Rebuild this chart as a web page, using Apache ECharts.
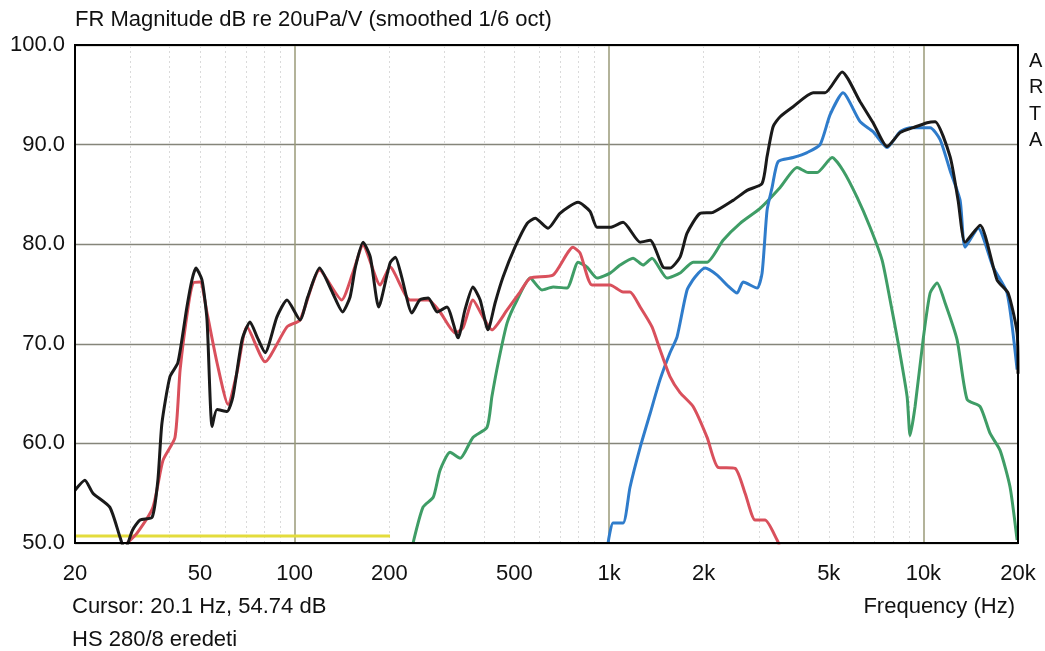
<!DOCTYPE html>
<html><head><meta charset="utf-8">
<script src="https://cdn.jsdelivr.net/npm/echarts@6/dist/echarts.min.js"></script>
<style>html,body{margin:0;padding:0;background:#fff}#c{width:1045px;height:651px}</style>
</head><body><div id="c"></div>
<script>
// ---- data (frequency in Hz, level in dB) ----
const blackF  = [20,21.5,22.8,25.8,27.8,28.8,30.5,32.2,35.2,36.7,37.8,40.1,42.5,45.4,47.1,48.5,50.7,52.6,54.6,56.6,60.9,63.6,68.0,72.1,75.9,80.5,87.8,94.5,104,110,120,132,142,150,156,165,174,185,201,209,219,236,250,266,284,305,331,348,369,389,412,434,460,502,549,582,640,698,797,870,916,1008,1108,1256,1351,1485,1563,1682,1771,1948,2142,2481,2749,3068,3182,3326,3502,3851,4458,4868,5512,6292,6918,7666,8432,9274,10276,10898,12162,12898,13576,15152,17162,18602,19868,20000];
const blackDB = [55.3,56.3,55.0,53.6,50.6,49.3,51.3,52.3,52.6,56.3,62.0,66.7,68.1,73.7,76.4,77.6,76.4,72.4,61.7,63.4,63.2,64.7,70.4,72.2,70.7,69.1,72.7,74.4,72.4,74.7,77.6,75.1,73.2,74.7,77.7,80.2,78.7,73.7,78.1,78.7,76.7,73.1,74.4,74.6,73.2,73.7,70.6,73.4,75.7,74.4,71.4,74.1,76.7,79.7,82.1,82.6,81.6,83.1,84.2,83.3,81.7,81.7,82.2,80.2,80.4,77.7,77.6,78.7,81.1,83.1,83.2,84.4,85.4,86.1,88.8,91.8,92.8,93.8,95.2,95.2,97.3,94.3,92.2,89.8,91.2,91.7,92.2,92.3,88.8,84.4,80.2,81.9,76.4,75.1,71.1,67.0];

const redF  = [29.3,31.5,35.4,38.1,41.6,43.2,45.8,47.5,50.0,52.6,56.6,61.4,65.5,70.5,80.5,94.5,104,120,141,153,165,187,201,233,266,290,324,343,369,397,424,474,521,561,664,768,809,883,1008,1108,1166,1256,1370,1453,1563,1682,1851,2051,2222,2518,2709,2916,3136,3425,3480];
const redDB = [50.0,51.0,53.6,58.3,60.6,67.4,73.7,76.1,76.2,73.1,68.1,63.9,67.1,71.7,68.2,71.7,72.4,77.4,74.4,77.1,79.9,75.9,77.7,74.4,74.4,73.2,71.1,71.6,74.4,72.7,71.4,73.4,75.2,76.6,76.9,79.7,79.1,75.9,75.9,75.2,75.2,73.7,71.7,69.4,66.7,65.1,63.7,60.6,57.6,57.5,55.0,52.3,52.3,50.3,49.8];

const greenF  = [238,256,276,290,312,336,369,409,424,444,474,510,561,612,664,735,797,851,916,1008,1084,1192,1283,1370,1529,1682,1851,2051,2306,2612,3024,3502,3966,4298,4591,5124,5552,6155,6768,7390,7836,8310,8876,9072,9410,9980,10506,11058,11726,12804,13778,15152,16306,17540,18874,19868];
const greenDB = [50.0,53.6,54.6,57.3,59.1,58.5,60.6,61.6,64.7,68.1,72.1,74.4,76.6,75.4,75.7,75.6,78.2,77.7,76.6,77.1,77.9,78.6,77.9,78.6,76.6,77.1,78.2,78.2,80.4,82.1,83.6,85.7,87.7,87.2,87.2,88.7,87.4,84.7,81.7,78.4,74.4,70.1,64.7,60.8,63.7,70.4,75.1,76.1,74.1,70.4,64.4,63.7,61.0,59.3,55.6,50.3];

const blueF  = [993,1030,1108,1166,1256,1351,1453,1563,1646,1771,1878,2021,2207,2374,2556,2670,2958,3068,3182,3302,3450,3851,4266,4693,5050,5552,6292,6918,7666,8432,9072,10506,11304,12162,13088,13576,14934,16666,18464,19868];
const blueDB = [50.0,52.0,52.0,55.6,59.6,63.0,66.4,69.1,70.7,75.4,76.7,77.6,76.9,75.9,75.1,76.2,75.6,77.1,83.4,85.7,88.3,88.7,89.2,90.0,93.0,95.2,92.3,91.3,89.7,91.3,91.7,91.7,90.5,87.4,84.4,79.7,81.6,77.7,75.1,67.4];

const yellowF  = [20,201];
const yellowDB = [50.7,50.7];

const xTickValues = [20,50,100,200,500,1000,2000,5000,10000,20000];
const majorGridX  = [100,1000,10000];
const minorGridX  = [30,40,50,60,70,80,90,200,300,400,500,600,700,800,900,2000,3000,4000,5000,6000,7000,8000,9000];

const titleText  = 'FR Magnitude dB re 20uPa/V (smoothed 1/6 oct)';
const cursorText = 'Cursor: 20.1 Hz, 54.74 dB';
const nameText   = 'HS 280/8 eredeti';
const xNameText  = 'Frequency (Hz)';
const brandText  = 'A\nR\nT\nA';

// ---- chart ----
const FONT = "'Liberation Sans', Arial, sans-serif";
const pairs = (f, d) => f.map((v, i) => [v, d[i]]);
const lineSeries = (name, f, d, color) => ({
  name, type: 'line', data: pairs(f, d), showSymbol: false, smooth: 0.2,
  lineStyle: { color, width: 3 }, z: 5, clip: true, silent: true
});

const chart = echarts.init(document.getElementById('c'), null, { renderer: 'canvas' });
chart.setOption({
  backgroundColor: '#ffffff',
  animation: false,
  grid: { left: 75, right: 27, top: 45, bottom: 108, show: true, borderColor: '#000', borderWidth: 2, backgroundColor: 'transparent', z: 10 },
  xAxis: {
    type: 'log', logBase: 10, min: 20, max: 20000,
    axisLine: { show: false }, axisTick: { show: false }, splitLine: { show: false }, minorTick: { show: false },
    axisLabel: {
      customValues: xTickValues, margin: 20, fontSize: 22, color: '#111', fontFamily: FONT,
      formatter: v => (v >= 1000 ? (v / 1000) + 'k' : String(v))
    }
  },
  yAxis: {
    type: 'value', min: 50, max: 100, interval: 10,
    axisLine: { show: false }, axisTick: { show: false },
    axisLabel: { formatter: v => v.toFixed(1), fontSize: 22, color: '#111', margin: 10, fontFamily: FONT },
    splitLine: { show: true, lineStyle: { color: '#85857a', width: 1.3 } }
  },
  series: [
    {
      type: 'line', data: [], silent: true, z: 1,
      markLine: {
        silent: true, symbol: ['none', 'none'], label: { show: false }, animation: false,
        data: minorGridX.map(v => ({ xAxis: v, lineStyle: { color: '#dadada', width: 1, type: [2, 3] } }))
          .concat(majorGridX.map(v => ({ xAxis: v, lineStyle: { color: '#9a9a78', width: 1.5, type: 'solid' } })))
      }
    },
    lineSeries('yellow', yellowF, yellowDB, '#e3dc3c'),
    lineSeries('green', greenF, greenDB, '#3f9d66'),
    lineSeries('blue', blueF, blueDB, '#2f7ccb'),
    lineSeries('red', redF, redDB, '#d9505c'),
    lineSeries('black', blackF, blackDB, '#1a1a1a')
  ],
  graphic: [
    { type: 'text', left: 75, top: 9, style: { text: titleText, font: '22px ' + FONT, fill: '#111' } },
    { type: 'text', left: 72, top: 596, style: { text: cursorText, font: '22px ' + FONT, fill: '#111' } },
    { type: 'text', left: 72, top: 629, style: { text: nameText, font: '22px ' + FONT, fill: '#111' } },
    { type: 'text', right: 30, top: 596, style: { text: xNameText, font: '22px ' + FONT, fill: '#111' } },
    { type: 'text', left: 1029, top: 48, style: { text: brandText, font: '20px ' + FONT, fill: '#111', lineHeight: 26.5 } }
  ]
});
</script></body></html>
